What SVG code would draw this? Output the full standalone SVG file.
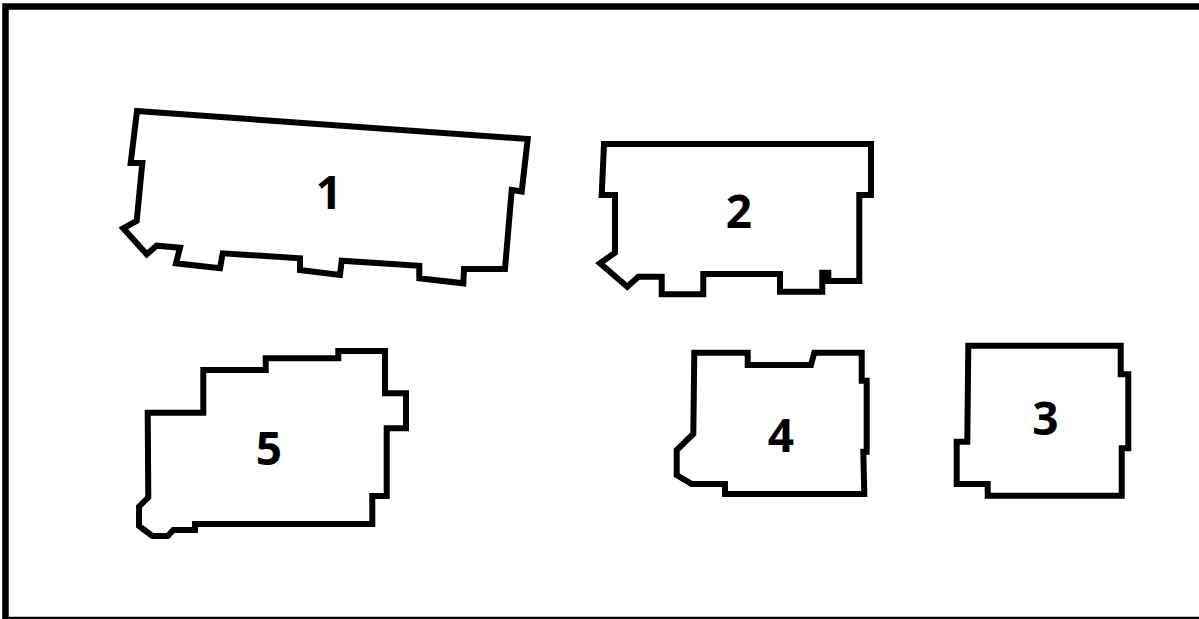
<svg xmlns="http://www.w3.org/2000/svg" width="1199" height="619" viewBox="0 0 1199 619">
<style>
.b{fill:#fff;stroke:#000;stroke-width:6;stroke-linejoin:miter}
.t{font-family:"Open Sans","Liberation Sans",sans-serif;font-weight:bold;font-size:46px;fill:#000;text-anchor:middle}
</style>
<rect x="0" y="0" width="1199" height="619" fill="#fff"/>
<rect x="5.5" y="6.5" width="1197" height="613.5" fill="none" stroke="#000" stroke-width="6.5"/>
<g id="node1">
<path class="b" d="M137,111 L527.7,139 L521.7,191.5 L511.7,190 L505,269 L464,269 L463.3,283.3 L419.3,278.3 L419.3,265.7 L341.7,260.7 L340,275 L300,270 L300,258.3 L222.7,253.3 L220,268.3 L176,263.3 L180,247.7 L156.7,245.7 L146.7,254.3 L123.3,228.3 L136.7,221 L142.3,163 L130.7,163 Z"/>
<text class="t" x="329" y="209">1</text>
</g>
<g id="node2">
<path class="b" d="M604,144 L871,144 L871,195 L859.3,195 L859.3,281 L828.3,281 L828.3,272.7 L822.3,272.7 L822.3,291.7 L780,291.7 L780,274 L703.3,274 L703.3,294.3 L661.7,294.3 L661.7,276.7 L638.3,276.7 L627.3,286.7 L600,263.3 L615,252.7 L615,195 L601.7,195 Z"/>
<text class="t" x="739" y="228">2</text>
</g>
<g id="node3">
<path class="b" d="M968.3,345.7 L1120.7,345.7 L1120.7,374.3 L1128.3,374.3 L1128.3,448.3 L1121.7,448.3 L1121.7,495.7 L987.7,495.7 L987.7,484 L956.7,484 L956.7,441.7 L967.3,441.7 Z"/>
<text class="t" x="1045.5" y="435">3</text>
</g>
<g id="node4">
<path class="b" d="M694.3,352.7 L747.7,352.7 L747.7,365 L811,365 L814.3,352.7 L861.7,352.7 L861.7,380.7 L866.7,380.7 L866.7,451.7 L863.3,451.7 L864.3,494 L725,494 L725,484 L691.7,484 L676.7,475 L676.7,450 L693.3,434 Z"/>
<text class="t" x="781" y="451.5">4</text>
</g>
<g id="node5">
<path class="b" d="M338.3,351 L385,351 L385,393.3 L406,393.3 L406,428.3 L386.7,428.3 L386.7,496 L372.3,496 L372.3,524 L195,524 L195,530 L173.3,530 L167.7,536 L152.3,536 L139,526 L139,506.7 L148.3,497.3 L147.7,412.7 L203.3,412.7 L203.3,370 L265.7,370 L265.7,358.3 L338.3,358.3 Z"/>
<text class="t" x="269" y="465">5</text>
</g>
<g id="connectors"></g>
</svg>
